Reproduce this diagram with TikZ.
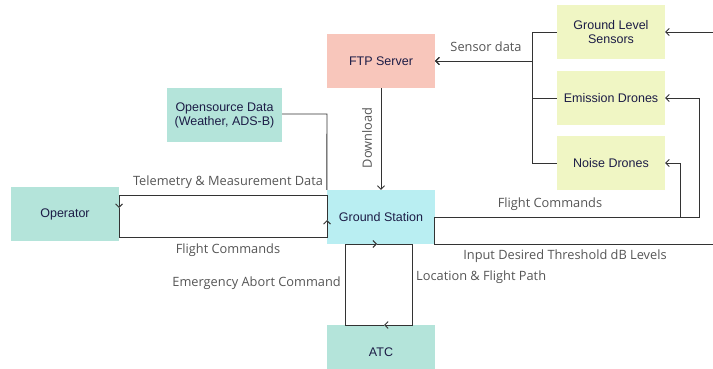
\documentclass[tikz,border=0pt]{standalone}
\usepackage{fontspec}
\setmainfont{Liberation Sans}
\newfontfamily\labelfont{Open Sans}
\usepackage{xcolor}
\usepackage{tikz}
\usetikzlibrary{arrows.meta}
\definecolor{ftppink}{RGB}{248,198,187}
\definecolor{stationcyan}{RGB}{185,238,242}
\definecolor{mintgreen}{RGB}{180,228,218}
\definecolor{sensoryellow}{RGB}{240,246,196}
\definecolor{boxtext}{RGB}{28,28,70}
\definecolor{linegray}{RGB}{51,51,51}
\definecolor{labelgray}{RGB}{85,85,85}

\begin{document}
\begin{tikzpicture}[x=1pt, y=-1pt,
    box/.style={minimum width=108pt, minimum height=54pt, inner sep=2pt, align=center,
      text=boxtext, font=\fontsize{12.5}{14}\selectfont},
    flow/.style={draw=linegray, line width=0.9pt, -{Straight Barb[length=3.5pt,width=7pt]}},
    plain/.style={draw=linegray, line width=0.9pt},
    lbl/.style={text=labelgray, font=\labelfont\fontsize{12.8}{15}\selectfont, inner sep=0pt}]
  \useasboundingbox (0,0) rectangle (713,369);
  % boxes
  \node[box, fill=ftppink] (ftp) at (381,61) {FTP Server};
  \node[box, fill=sensoryellow] (gls) at (611,32) {Ground Level\\Sensors};
  \node[box, fill=sensoryellow] (emd) at (611,98) {Emission Drones};
  \node[box, fill=sensoryellow] (nsd) at (611,163) {Noise Drones};
  \node[box, fill=stationcyan] (gs) at (381,217) {Ground Station};
  \node[box, fill=mintgreen, minimum width=115pt] (osd) at (224.5,115) {Opensource Data\\(Weather, ADS-B)};
  \node[box, fill=mintgreen] (op) at (65,214) {Operator};
  \node[box, fill=mintgreen] (atc) at (381,352) {ATC};
  % free ends off the right edge
  \coordinate (gin) at (713,32);
  \coordinate (thr) at (713,244);

  % sensors to ftp
  \draw[flow] (gls.west) -- (532,32) |- (ftp.east);
  \draw[flow] (emd.west) -- (532,98) |- (ftp.east);
  \draw[flow] (nsd.west) -- (532,163) |- (ftp.east);
  \node[lbl] at (486,47) {Sensor data};
  \draw[flow] (gin) -- (gls.east);

  % ftp to ground station
  \draw[flow] (ftp.south) -- (gs.north);
  \node[lbl, rotate=90] at (367,138) {Download};

  % opensource data
  \draw[plain] (osd.east |- 0,114) -- (327,114) -- (gs.north west);

  % operator loop
  \draw[flow] (327,220) -- (327,195) -- (119,195) -- (119,208);
  \draw[flow] (119,208) -- (119,237) -- (327,237) -- (327,220);
  \node[lbl] at (228,182) {Telemetry \& Measurement Data};
  \node[lbl] at (228,250) {Flight Commands};

  % atc loop
  \draw[flow] (384,325) -- (345,325) -- (345,244) -- (377,244);
  \draw[flow] (377,244) -- (412,244) -- (412,325) -- (384,325);
  \node[lbl, anchor=east] at (341,283) {Emergency Abort Command};
  \node[lbl, anchor=west] at (416,277) {Location \& Flight Path};

  % ground station to drones
  \draw[flow] (gs.east) -- (699,217) |- (emd.east);
  \draw[flow] (gs.east) -- (680,217) |- (nsd.east);
  \node[lbl] at (550,204) {Flight Commands};

  % threshold input
  \draw[plain] (thr) -- (434,244) -- (434,217);
  \node[lbl] at (565,256) {Input Desired Threshold dB Levels};
\end{tikzpicture}
\end{document}
